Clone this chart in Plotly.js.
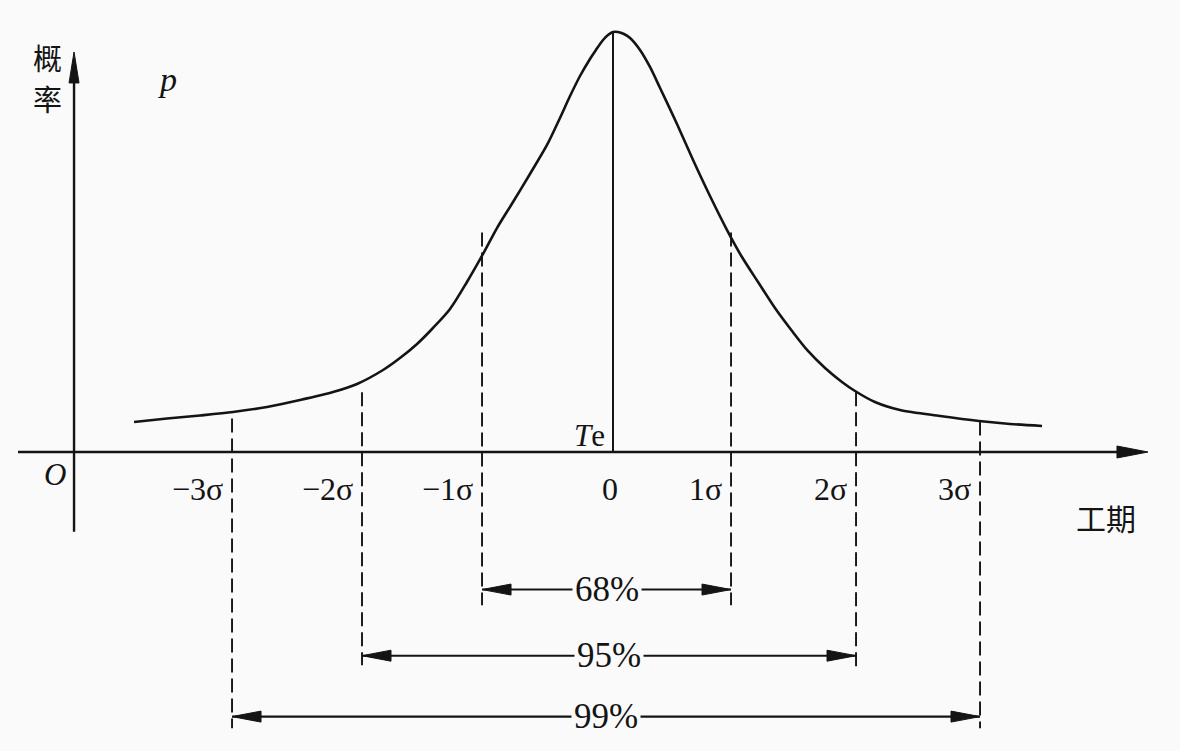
<!DOCTYPE html>
<html>
<head>
<meta charset="utf-8">
<script src="https://cdn.plot.ly/plotly-3.0.1.min.js"></script>
<style>html,body{margin:0;padding:0;background:#fafafa;}#chart{width:1180px;height:751px;}</style>
</head>
<body>
<div id="chart"></div>
<script>
// ---- data (x in σ units from Te, p = probability density) ----
const curveX = [-3.847,-3.582,-3.317,-3.052,-2.779,-2.514,-2.249,-2.056,-1.847,-1.711,-1.574,-1.446,-1.309,-1.173,-1.044,-0.932,-0.803,-0.667,-0.530,-0.426,-0.345,-0.265,-0.185,-0.137,-0.080,-0.040,0.000,0.040,0.088,0.137,0.217,0.297,0.378,0.514,0.643,0.779,0.916,1.036,1.165,1.301,1.438,1.566,1.703,1.839,1.944,2.104,2.305,2.627,2.940,3.189,3.446];
const curveP = [0.0286,0.0319,0.0348,0.0381,0.0429,0.0495,0.0571,0.0648,0.0781,0.0895,0.1029,0.1181,0.1362,0.1619,0.1886,0.2133,0.2381,0.2648,0.2924,0.3181,0.3390,0.3581,0.3743,0.3829,0.3924,0.3971,0.4000,0.4000,0.3981,0.3943,0.3829,0.3667,0.3467,0.3124,0.2781,0.2438,0.2114,0.1857,0.1619,0.1371,0.1152,0.0962,0.0800,0.0667,0.0581,0.0476,0.0400,0.0343,0.0295,0.0267,0.0248];

const sigmaLabels = ['−3σ','−2σ','−1σ','0','1σ','2σ','3σ'];
const sigmaPos    = [-3.060,-2.016,-1.052,0,0.948,1.952,2.948];
const guideTop    = [0.032,0.057,0.209,null,0.209,0.057,0.029];
const guideBottom = [-0.263,-0.203,-0.146,null,-0.146,-0.208,-0.263];

const bandLabels = ['68%','95%','99%'];
const bandFrom   = [-1.052,-2.016,-3.060];
const bandTo     = [0.948,1.952,2.948];
const bandLevel  = [-0.131,-0.194,-0.252];

// ---- layout constants ----
const INK = '#141414';
const BG = '#fafafa';
const SERIF = 'Liberation Serif, Times New Roman, serif';
const CJK = 'Noto Sans CJK SC, sans-serif';
const xRange = [-4.9237, 4.5542];
const yRange = [-0.28476, 0.43048];
const yAxisX = -4.329, xAxisStart = -4.779, xAxisTip = 4.297, yAxisBottom = -0.076, yAxisTip = 0.381;

const traces = [];
// bell curve
traces.push({x: curveX, y: curveP, mode: 'lines', line: {color: INK, width: 2.6, shape: 'spline', smoothing: 0.8}, hoverinfo: 'skip'});
// centre line at Te
const peak = Math.max(...curveP);
traces.push({x: [0, 0], y: [0, peak], mode: 'lines', line: {color: INK, width: 2}, hoverinfo: 'skip'});
// dashed σ guides
const gx = [], gy = [];
sigmaPos.forEach((s, i) => { if (guideTop[i] !== null) { gx.push(s, s, null); gy.push(guideTop[i], guideBottom[i], null); } });
traces.push({x: gx, y: gy, mode: 'lines', line: {color: INK, width: 1.9, dash: '14px,6px'}, hoverinfo: 'skip'});
// band arrows
const bx = [], by = [];
bandLabels.forEach((_, i) => { bx.push(bandFrom[i], bandTo[i], null); by.push(bandLevel[i], bandLevel[i], null); });
traces.push({x: bx, y: by, mode: 'lines', line: {color: INK, width: 2.1}, hoverinfo: 'skip'});

const shapes = [
  {type: 'line', xref: 'x', yref: 'y', x0: xAxisStart, x1: xAxisTip - 0.1, y0: 0, y1: 0, line: {color: INK, width: 2.6}},
  {type: 'line', xref: 'x', yref: 'y', x0: yAxisX, x1: yAxisX, y0: yAxisBottom, y1: yAxisTip - 0.02, line: {color: INK, width: 2.4}},
  {type: 'path', xref: 'x', yref: 'y', xsizemode: 'pixel', ysizemode: 'pixel', xanchor: xAxisTip, yanchor: 0,
   path: 'M0,0 L-31,6 L-31,-6 Z', fillcolor: INK, line: {color: INK, width: 1}},
  {type: 'path', xref: 'x', yref: 'y', xsizemode: 'pixel', ysizemode: 'pixel', xanchor: yAxisX, yanchor: yAxisTip,
   path: 'M0,0 L-5,-31 L5,-31 Z', fillcolor: INK, line: {color: INK, width: 1}}
];
bandLabels.forEach((_, i) => {
  shapes.push({type: 'path', xref: 'x', yref: 'y', xsizemode: 'pixel', ysizemode: 'pixel', xanchor: bandFrom[i], yanchor: bandLevel[i],
    path: 'M0,0 L29,5.5 L29,-5.5 Z', fillcolor: INK, line: {color: INK, width: 1}});
  shapes.push({type: 'path', xref: 'x', yref: 'y', xsizemode: 'pixel', ysizemode: 'pixel', xanchor: bandTo[i], yanchor: bandLevel[i],
    path: 'M0,0 L-29,5.5 L-29,-5.5 Z', fillcolor: INK, line: {color: INK, width: 1}});
});

const annotations = [];
sigmaLabels.forEach((t, i) => {
  const centre = sigmaPos[i] === 0;
  annotations.push({x: sigmaPos[i], y: 0, xref: 'x', yref: 'y', text: t, showarrow: false,
    xanchor: centre ? 'center' : 'right', yanchor: 'middle', xshift: centre ? -3 : -7, yshift: -37,
    font: {family: SERIF, size: 32, color: INK}});
});
bandLabels.forEach((t, i) => {
  annotations.push({x: (bandFrom[i] + bandTo[i]) / 2, y: bandLevel[i], xref: 'x', yref: 'y', text: t, showarrow: false,
    xanchor: 'center', yanchor: 'middle', bgcolor: BG, borderpad: 2,
    font: {family: SERIF, size: 35, color: INK}});
});
annotations.push({x: 0, y: 0, xref: 'x', yref: 'y', text: '<i>T</i>e', showarrow: false, xanchor: 'right', yanchor: 'middle',
  xshift: -6, yshift: 17, font: {family: SERIF, size: 31, color: INK}});
annotations.push({x: yAxisX, y: 0, xref: 'x', yref: 'y', text: '<i>O</i>', showarrow: false, xanchor: 'center', yanchor: 'middle',
  xshift: -19, yshift: -22, font: {family: SERIF, size: 31, color: INK}});
annotations.push({x: yAxisX, y: yAxisTip, xref: 'x', yref: 'y', text: '<i>p</i>', showarrow: false, xanchor: 'center', yanchor: 'middle',
  xshift: 93, yshift: -28, font: {family: SERIF, size: 34, color: INK}});
annotations.push({x: yAxisX, y: yAxisTip, xref: 'x', yref: 'y', text: '概', showarrow: false, xanchor: 'center', yanchor: 'middle',
  xshift: -27, yshift: -5, font: {family: CJK, size: 29, color: INK}});
annotations.push({x: yAxisX, y: yAxisTip, xref: 'x', yref: 'y', text: '率', showarrow: false, xanchor: 'center', yanchor: 'middle',
  xshift: -27, yshift: -46, font: {family: CJK, size: 29, color: INK}});
annotations.push({x: xAxisTip, y: 0, xref: 'x', yref: 'y', text: '工期', showarrow: false, xanchor: 'center', yanchor: 'middle',
  xshift: -42, yshift: -65, font: {family: CJK, size: 30, color: INK}});

const layout = {
  width: 1180, height: 751,
  margin: {l: 0, r: 0, t: 0, b: 0, pad: 0},
  paper_bgcolor: BG, plot_bgcolor: BG,
  showlegend: false,
  xaxis: {range: xRange, visible: false, fixedrange: true},
  yaxis: {range: yRange, visible: false, fixedrange: true},
  shapes: shapes,
  annotations: annotations
};

Plotly.newPlot('chart', traces, layout, {staticPlot: true, displayModeBar: false});
</script>
</body>
</html>
